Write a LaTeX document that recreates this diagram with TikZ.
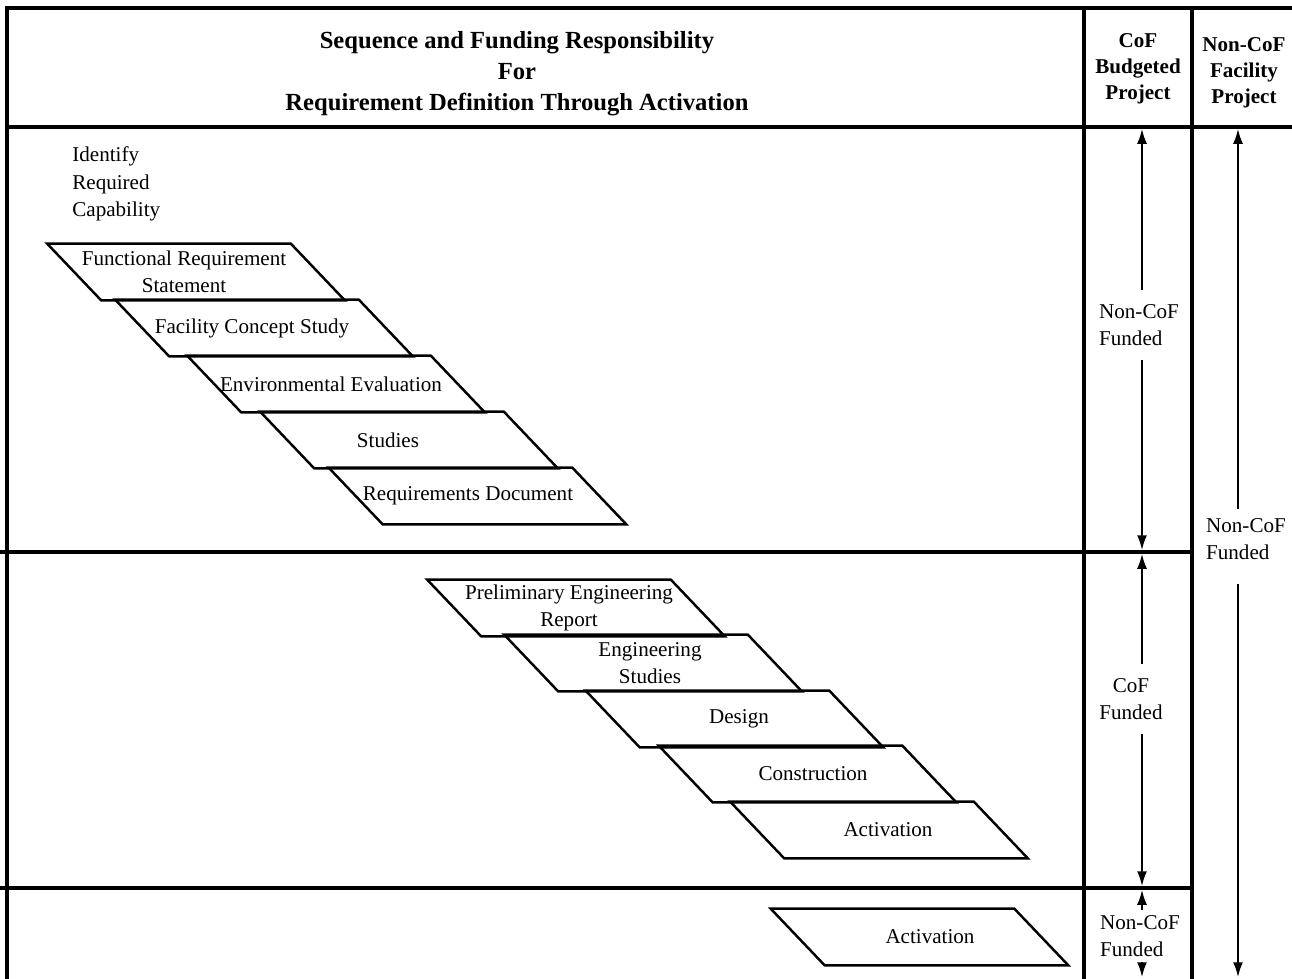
\documentclass[tikz,border=0pt]{standalone}
\usepackage{fontspec}
\setmainfont{Liberation Serif}
\usetikzlibrary{arrows.meta}

\tikzset{
  grid line/.style={line width=2pt},
  stage/.style={minimum width=4.86cm, minimum height=1.12cm, inner sep=0pt, align=center},
  stage edge/.style={line width=1.4pt, line join=miter},
  fund/.style={-{Latex[length=0.3cm,width=0.2cm]}, line width=1.2pt, shorten >=1pt},
  fundlbl/.style={align=left, inner sep=8pt},
  headlbl/.style={align=center, font=\bfseries\fontsize{12}{14.7}\selectfont},
}

\begin{document}
\begin{tikzpicture}[x=0.02cm, y=-0.02cm, font=\fontsize{12}{15.5}\selectfont]
    \useasboundingbox (0,0) rectangle (1292,978);

    % table frame
    \draw[grid line] (1292,8) -- (7,8) -- (7,985);
    \draw[grid line] (7,127) -- (1292,127);
    \draw[grid line] (1084,8) -- (1084,985);
    \draw[grid line] (1192,8) -- (1192,985);
    \draw[grid line] (0,552) -- (1192,552);
    \draw[grid line] (0,888) -- (1192,888);

    \coordinate (hb) at (0,127);
    \coordinate (s1) at (0,552);
    \coordinate (s2) at (0,888);
    \coordinate (bt) at (0,979);
    \coordinate (ca) at (1142,0);
    \coordinate (cb) at (1238,0);

    % header
    \node[align=center, font=\bfseries\fontsize{14}{17.6}\selectfont] (title) at (517,74)
        {Sequence and Funding Responsibility\\For\\Requirement Definition Through Activation};
    \node[headlbl] (cofhd) at (1138,69) {CoF\\Budgeted\\Project};
    \node[headlbl] (ncofhd) at (1244,73) {Non-CoF\\Facility\\Project};

    % requirement definition
    \node[anchor=west, align=left, inner sep=0pt] (ident) at (72,184) {Identify\\Required\\Capability};
    \node[stage] (frs) at (184,272) {Functional Requirement\\Statement};
    \node[stage] (fcs) at (252,328) {Facility Concept Study};
    \node[stage] (env) at (331,384) {Environmental Evaluation};
    \node[stage] (stu) at (388,440) {Studies};
    \node[stage] (rqd) at (468,496) {Requirements Document};

    % cof funded
    \node[stage] (per) at (569,608) {Preliminary Engineering\\Report};
    \node[stage] (eng) at (650,663) {Engineering\\Studies};
    \node[stage] (des) at (739,719) {Design};
    \node[stage] (con) at (813,774) {Construction};
    \node[stage] (act) at (888,830) {Activation};

    % non-cof activation
    \node[stage] (act2) at (930,937) {Activation};

    % parallelograms, offset from the text centre
    \foreach \n/\d in {frs/12,fcs/12,env/5,stu/21,rqd/9.5,per/7,eng/3,des/-4.5,con/-5.5,act/-9,act2/-10.5}
        \draw[stage edge] ([xshift={(\d*0.02-0.54)*1cm}]\n.north west) -- ([xshift={(\d*0.02-0.54)*1cm}]\n.north east)
            -- ([xshift={(\d*0.02+0.54)*1cm}]\n.south east) -- ([xshift={(\d*0.02+0.54)*1cm}]\n.south west) -- cycle;

    % funding columns
    \node[fundlbl] (nf1) at (1139,325) {Non-CoF\\Funded};
    \node[fundlbl, align=center] (cf) at (1131,699) {CoF\\Funded};
    \node[fundlbl, inner sep=3pt] (nf2) at (1140,936) {Non-CoF\\Funded};
    \node[fundlbl, inner sep=5pt] (nf3) at (1246,539) {Non-CoF\\Funded};

    \draw[fund] (nf1.north -| ca) -- (hb -| ca);
    \draw[fund] (nf1.south -| ca) -- (s1 -| ca);
    \draw[fund] (cf.north -| ca) -- (s1 -| ca);
    \draw[fund] (cf.south -| ca) -- (s2 -| ca);
    \draw[fund] (nf2.north -| ca) -- (s2 -| ca);
    \draw[fund] (nf2.south -| ca) -- (bt -| ca);
    \draw[fund] (nf3.north -| cb) -- (hb -| cb);
    \draw[fund, shorten <=0.3cm] (nf3.south -| cb) -- (bt -| cb);
\end{tikzpicture}
\end{document}
